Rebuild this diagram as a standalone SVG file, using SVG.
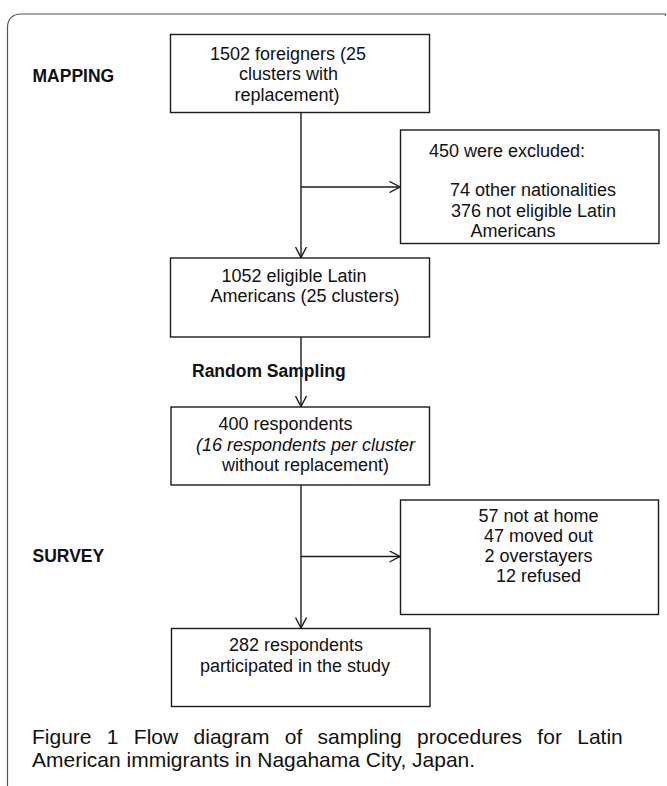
<svg xmlns="http://www.w3.org/2000/svg" width="667" height="786" viewBox="0 0 667 786">
<style>
  .bg { fill: #ffffff; }
  .frame { fill: none; stroke: #555; stroke-width: 1.2; }
  .box { fill: #ffffff; stroke: #1a1a1a; stroke-width: 1.4; }
  .t { font-family: "Liberation Sans", Arial, sans-serif; font-size: 18px; fill: #111; text-anchor: middle; }
  .it { font-style: italic; }
  .lbl { font-family: "Liberation Sans", Arial, sans-serif; font-size: 17.5px; font-weight: bold; fill: #111; }
  .cap { font-family: "Liberation Sans", Arial, sans-serif; font-size: 21px; fill: #111; }
  .conn { fill: none; stroke: #1a1a1a; stroke-width: 1.4; }
</style>
<defs>
  <marker id="arr" viewBox="0 0 12 12" markerWidth="12" markerHeight="12" refX="11" refY="6" orient="auto" markerUnits="userSpaceOnUse">
    <path d="M0.5,0.5 L11,6 L0.5,11.5" fill="none" stroke="#1a1a1a" stroke-width="1.4"/>
  </marker>
</defs>
<rect class="bg" x="0" y="0" width="667" height="786"/>
<path class="frame" d="M7.5,786 V28 Q7.5,14 21.5,14 H665.5 V16"/>

<text class="lbl" x="32.5" y="81.5">MAPPING</text>
<text class="lbl" x="192" y="377">Random Sampling</text>
<text class="lbl" x="32.5" y="562">SURVEY</text>

<g id="connectors">
  <path class="conn" d="M301,112.5 V257.5" marker-end="url(#arr)"/>
  <path class="conn" d="M301,187 H400" marker-end="url(#arr)"/>
  <path class="conn" d="M301,337 V406.5" marker-end="url(#arr)"/>
  <path class="conn" d="M301,485 V628" marker-end="url(#arr)"/>
  <path class="conn" d="M301,556.5 H400" marker-end="url(#arr)"/>
</g>

<g id="node-foreigners">
  <rect class="box" x="170.5" y="34.5" width="259" height="78"/>
  <text class="t" x="288" y="59.5">1502 foreigners (25</text>
  <text class="t" x="288.5" y="80">clusters with</text>
  <text class="t" x="287" y="100.5">replacement)</text>
</g>

<g id="node-excluded">
  <rect class="box" x="400.5" y="130" width="258.5" height="113.5"/>
  <text class="t" x="507" y="157">450 were excluded:</text>
  <text class="t" x="533" y="196">74 other nationalities</text>
  <text class="t" x="533.5" y="216.5">376 not eligible Latin</text>
  <text class="t" x="513" y="237">Americans</text>
</g>

<g id="node-eligible">
  <rect class="box" x="170.5" y="258" width="259" height="79"/>
  <text class="t" x="294" y="282">1052 eligible Latin</text>
  <text class="t" x="305" y="302">Americans (25 clusters)</text>
</g>

<g id="node-respondents">
  <rect class="box" x="171" y="407" width="258.5" height="78"/>
  <text class="t" x="285.5" y="430">400 respondents</text>
  <text class="t it" x="305.5" y="450.5">(16 respondents per cluster</text>
  <text class="t" x="305.5" y="470.5">without replacement)</text>
</g>

<g id="node-nonresponse">
  <rect class="box" x="400.5" y="500" width="258" height="114.5"/>
  <text class="t" x="538.5" y="522">57 not at home</text>
  <text class="t" x="538.5" y="542">47 moved out</text>
  <text class="t" x="538.5" y="562">2 overstayers</text>
  <text class="t" x="538.5" y="582">12 refused</text>
</g>

<g id="node-participated">
  <rect class="box" x="171.5" y="628.5" width="258.5" height="78"/>
  <text class="t" x="296" y="651">282 respondents</text>
  <text class="t" x="295" y="672">participated in the study</text>
</g>

<text class="cap" x="32" y="743.5" word-spacing="9.5">Figure 1 Flow diagram of sampling procedures for Latin</text>
<text class="cap" x="32" y="767">American immigrants in Nagahama City, Japan.</text>
</svg>
